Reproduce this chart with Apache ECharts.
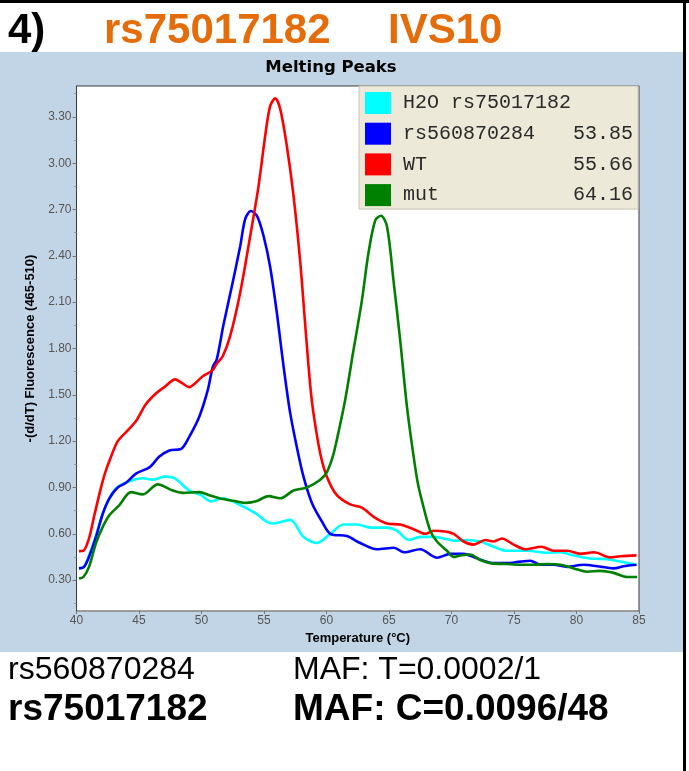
<!DOCTYPE html>
<html>
<head>
<meta charset="utf-8">
<script src="https://cdn.jsdelivr.net/npm/echarts@6/dist/echarts.min.js"></script>
<style>
html,body{margin:0;padding:0;background:#fff;}
#chart{width:689px;height:771px;}
</style>
</head>
<body>
<div id="chart"></div>
<script>
// ---- data ----
const seriesNames = ['H2O rs75017182', 'rs560870284', 'WT', 'mut'];
const seriesTm = ['', '53.85', '55.66', '64.16'];
const seriesColors = ['#00ffff', '#0000ff', '#ff0000', '#008000'];

const h2oCurve = [[40.2,0.376],[40.6,0.386],[41.0,0.46],[41.56,0.59],[42.1,0.73],[42.63,0.83],[43.16,0.894],[44.23,0.94],[45.3,0.96],[46.1,0.95],[47.03,0.97],[47.83,0.96],[49.03,0.88],[49.97,0.85],[50.77,0.81],[51.7,0.83],[53.03,0.79],[54.37,0.73],[55.17,0.68],[55.76,0.667],[57.1,0.69],[58.16,0.58],[59.23,0.54],[60.3,0.60],[61.36,0.66],[62.43,0.66],[63.5,0.64],[64.84,0.64],[65.64,0.62],[66.57,0.56],[67.5,0.58],[68.57,0.58],[69.9,0.56],[70.17,0.555],[71.24,0.56],[72.3,0.55],[73.37,0.516],[74.44,0.49],[76.04,0.49],[77.65,0.477],[78.71,0.48],[79.78,0.46],[81.1,0.44],[82.45,0.436],[83.5,0.42],[84.8,0.40]];

const rs560Curve = [[40.2,0.376],[40.6,0.386],[41.0,0.45],[41.56,0.58],[42.1,0.73],[42.63,0.83],[43.3,0.90],[43.96,0.93],[44.76,0.99],[45.83,1.03],[46.63,1.10],[47.43,1.14],[48.37,1.15],[49.03,1.23],[49.83,1.36],[50.5,1.53],[50.9,1.68],[51.22,1.73],[51.75,1.95],[52.42,2.20],[53.09,2.46],[53.5,2.64],[53.95,2.69],[54.43,2.66],[54.96,2.53],[55.49,2.33],[56.03,2.03],[56.43,1.77],[56.77,1.56],[57.1,1.38],[57.63,1.16],[58.16,0.97],[58.83,0.80],[59.63,0.68],[60.3,0.60],[61.63,0.585],[62.7,0.54],[64.04,0.50],[65.4,0.51],[66.2,0.48],[67.5,0.50],[68.84,0.445],[69.9,0.47],[70.97,0.47],[71.77,0.45],[72.57,0.425],[73.37,0.41],[74.44,0.41],[75.5,0.42],[76.3,0.425],[77.1,0.40],[78.17,0.40],[79.25,0.386],[80.58,0.40],[81.65,0.39],[82.98,0.376],[83.78,0.39],[84.8,0.40]];

const wtCurve = [[40.2,0.488],[40.55,0.49],[41.0,0.57],[41.4,0.71],[41.9,0.88],[42.27,0.99],[42.67,1.08],[43.3,1.20],[44.1,1.27],[44.76,1.33],[45.56,1.44],[46.37,1.51],[47.03,1.55],[47.9,1.60],[48.37,1.58],[49.03,1.55],[49.43,1.57],[50.1,1.62],[50.9,1.66],[51.2,1.70],[51.7,1.75],[52.29,1.88],[53.09,2.16],[53.9,2.53],[54.56,2.85],[55.1,3.18],[55.49,3.37],[55.9,3.42],[56.3,3.35],[56.83,3.11],[57.36,2.79],[57.9,2.36],[58.3,1.95],[58.7,1.56],[58.96,1.38],[59.5,1.12],[60.03,0.97],[60.83,0.85],[61.9,0.79],[62.83,0.77],[63.77,0.71],[64.84,0.667],[65.9,0.66],[66.97,0.63],[67.9,0.60],[68.57,0.62],[69.5,0.615],[70.17,0.60],[70.97,0.55],[71.77,0.53],[72.7,0.56],[73.37,0.55],[74.04,0.57],[74.97,0.53],[75.9,0.50],[77.2,0.516],[78.17,0.49],[79.25,0.49],[80.3,0.47],[81.4,0.48],[82.7,0.447],[83.5,0.455],[84.8,0.46]];

const mutCurve = [[40.2,0.31],[40.55,0.32],[41.0,0.386],[41.56,0.54],[42.1,0.645],[42.63,0.72],[43.43,0.786],[44.36,0.87],[45.3,0.855],[46.5,0.92],[47.7,0.88],[48.5,0.865],[49.83,0.87],[50.63,0.85],[51.7,0.825],[52.77,0.81],[53.57,0.80],[54.37,0.81],[55.36,0.844],[56.3,0.83],[57.36,0.88],[58.43,0.90],[59.5,0.95],[60.03,1.00],[60.5,1.10],[60.83,1.21],[61.5,1.47],[62.16,1.79],[62.83,2.11],[63.36,2.42],[63.9,2.63],[64.36,2.66],[64.84,2.59],[65.36,2.24],[65.9,1.85],[66.44,1.42],[66.9,1.14],[67.3,0.93],[67.77,0.77],[68.3,0.62],[68.84,0.55],[69.64,0.49],[70.17,0.45],[70.7,0.46],[71.5,0.466],[72.3,0.43],[73.1,0.41],[74.44,0.404],[75.5,0.40],[76.57,0.40],[77.65,0.404],[78.71,0.40],[79.78,0.376],[80.85,0.354],[81.9,0.36],[82.98,0.347],[84.05,0.32],[84.85,0.32]];

const xTicks = [40,45,50,55,60,65,70,75,80,85];
const yMajorTicks = [0.30,0.60,0.90,1.20,1.50,1.80,2.10,2.40,2.70,3.00,3.30];
const yMinorTicks = [0.15,0.45,0.75,1.05,1.35,1.65,1.95,2.25,2.55,2.85,3.15,3.45];

const curves = [h2oCurve, rs560Curve, wtCurve, mutCurve];

// ---- chart ----
const chart = echarts.init(document.getElementById('chart'), null, {renderer:'canvas'});
const GRID = {left:76.5, top:86, width:562.5, height:525};
const labelColor = '#555555';

const option = {
  backgroundColor:'#ffffff',
  animation:false,
  graphic:[
    {type:'rect', shape:{x:0,y:52,width:684,height:600}, style:{fill:'#c2d5e6'}, z:-10, silent:true},
    {type:'rect', shape:{x:0,y:0,width:689,height:3}, style:{fill:'#000'}, z:10, silent:true},
    {type:'rect', shape:{x:683,y:0,width:3,height:771}, style:{fill:'#000'}, z:10, silent:true},
    {type:'text', left:8, top:10, style:{text:'4)', font:'bold 42px "Liberation Sans", Arial', fill:'#000'}},
    {type:'text', left:104, top:10, style:{text:'rs75017182', font:'bold 42px "Liberation Sans", Arial', fill:'#e46c0a'}},
    {type:'text', left:388, top:10, style:{text:'IVS10', font:'bold 42px "Liberation Sans", Arial', fill:'#e46c0a'}},
    {type:'text', x:331, y:68, style:{text:'Melting Peaks', font:'bold 16.5px "DejaVu Sans", Verdana', fill:'#000', align:'center', verticalAlign:'middle'}},
    {type:'text', left:8, top:654, style:{text:'rs560870284', font:'32px "Liberation Sans", Arial', fill:'#000'}},
    {type:'text', left:293, top:654, style:{text:'MAF: T=0.0002/1', font:'32px "Liberation Sans", Arial', fill:'#000'}},
    {type:'text', left:8, top:691, style:{text:'rs75017182', font:'bold 37px "Liberation Sans", Arial', fill:'#000'}},
    {type:'text', left:293, top:691, style:{text:'MAF: C=0.0096/48', font:'bold 37px "Liberation Sans", Arial', fill:'#000'}}
  ],
  grid:{left:GRID.left, top:GRID.top, width:GRID.width, height:GRID.height, show:true, backgroundColor:'#ffffff', borderColor:'#3a3a3a', borderWidth:1, containLabel:false},
  legend:{
    show:true, orient:'vertical', left:359, top:86,
    backgroundColor:'#ece9d8', borderColor:'#c8c4b4', borderWidth:1, borderRadius:0,
    padding:[6,5,3,6], itemWidth:26, itemHeight:22, itemGap:8.7,
    icon:'rect', selectedMode:false,
    data:seriesNames,
    formatter:function(name){ const i=seriesNames.indexOf(name); return '{a|'+name+'}{b|'+seriesTm[i]+'}'; },
    textStyle:{
      fontFamily:'"Liberation Mono", "DejaVu Sans Mono", monospace', fontSize:20, color:'#2a2a2a',
      rich:{
        a:{fontFamily:'"Liberation Mono", monospace', fontSize:20, color:'#2a2a2a', width:160, padding:[0,0,0,7]},
        b:{fontFamily:'"Liberation Mono", monospace', fontSize:20, color:'#2a2a2a', width:70, align:'right'}
      }
    }
  },
  xAxis:{
    type:'value', min:40, max:85, interval:5,
    name:'Temperature (°C)', nameLocation:'middle', nameGap:19,
    nameTextStyle:{fontFamily:'"Liberation Sans", Arial', fontWeight:'bold', fontSize:13, color:'#000'},
    axisLine:{show:true, lineStyle:{color:'#999', width:1}},
    axisTick:{show:true, length:3, lineStyle:{color:'#777'}},
    axisLabel:{show:true, margin:4, color:labelColor, fontFamily:'"Liberation Sans", Arial', fontSize:12, formatter:function(v){return String(v);}},
    splitLine:{show:false}
  },
  yAxis:[
    {
      type:'value', min:0.1, max:3.5,
      name:'-(d/dT) Fluorescence (465-510)', nameLocation:'middle', nameGap:40, nameRotate:90,
      nameTextStyle:{fontFamily:'"Liberation Sans", Arial', fontWeight:'bold', fontSize:13, color:'#000'},
      axisLine:{show:true, lineStyle:{color:'#3a3a3a', width:1}},
      axisTick:{show:true, length:4, customValues:yMajorTicks, lineStyle:{color:'#777'}},
      axisLabel:{show:true, margin:5, customValues:yMajorTicks, color:labelColor, fontFamily:'"Liberation Sans", Arial', fontSize:12, formatter:function(v){return v.toFixed(2);}},
      splitLine:{show:false}
    },
    {
      type:'value', min:0.1, max:3.5, position:'left',
      axisLine:{show:false},
      axisTick:{show:true, length:2.5, customValues:yMinorTicks, lineStyle:{color:'#999'}},
      axisLabel:{show:false, customValues:yMinorTicks},
      splitLine:{show:false}
    }
  ],
  series: curves.map(function(c,i){
    return {
      name:seriesNames[i], type:'line', data:c, yAxisIndex:0,
      showSymbol:false, symbol:'none', smooth:0.3,
      lineStyle:{color:seriesColors[i], width:2.6},
      itemStyle:{color:seriesColors[i]},
      z:2+i
    };
  })
};
chart.setOption(option);
</script>
</body>
</html>
